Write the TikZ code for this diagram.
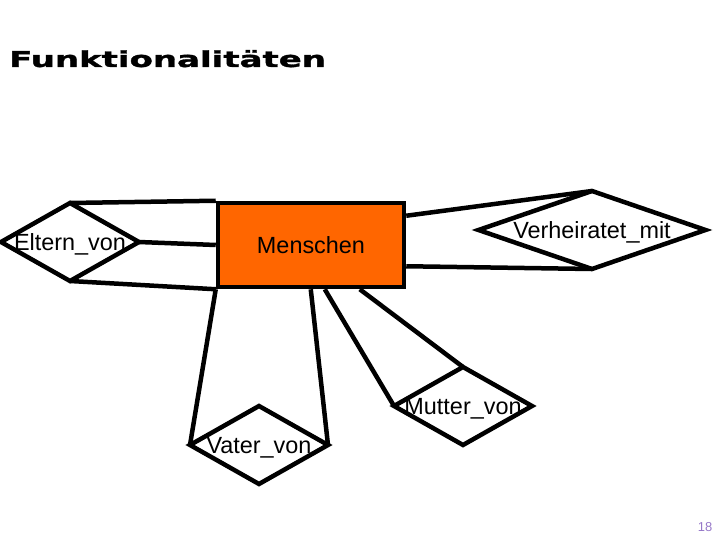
\documentclass[tikz,border=0pt]{standalone}
\usepackage{fontspec}
\setmainfont{Liberation Sans}
\newfontface\titelfont{DejaVu Sans Bold}[FakeBold=1.2]
\usetikzlibrary{shapes.geometric}
\definecolor{menschorange}{RGB}{255,102,0}
\definecolor{seitenlila}{RGB}{150,120,200}
\newcommand{\relText}[1]{\makebox[0pt]{#1}}
\tikzset{
  entity/.style={draw, line width=4.5bp, fill=menschorange, inner sep=0pt,
    minimum width=186bp, minimum height=84bp, font=\fontsize{23.5}{26}\selectfont},
  relation/.style={draw, diamond, line width=4.5bp, inner sep=0pt, outer sep=0pt,
    text depth=0pt, minimum width=138bp, minimum height=78bp,
    font=\fontsize{23.5}{26}\selectfont},
  link/.style={line width=4.5bp}
}

\begin{document}
\begin{tikzpicture}[x=1bp,y=-1bp]
\useasboundingbox (0,0) rectangle (720,540);
\node[anchor=base west, inner sep=0pt, font=\fontsize{22}{26}\titelfont] (titel) at (9,67) {\scalebox{1.55}[1]{Funktionalitäten}};
\node[entity] (mensch) at (311,245) {Menschen};
\node[relation] (eltern) at (70,242) {\relText{Eltern\_von}};
\node[relation, minimum width=227bp] (verh) at (592,230) {\relText{Verheiratet\_mit}};
\node[relation] (vater) at (259,445) {\relText{Vater\_von}};
\node[relation] (mutter) at (463,406) {\relText{Mutter\_von}};
\draw[link] (eltern.north) -- (mensch.north west);
\draw[link] (eltern.east) -- (mensch.west);
\draw[link] (eltern.south) -- (mensch.south west);
\draw[link] ([yshift=-15bp]mensch.north east) -- (verh.north);
\draw[link] ([yshift=23bp]mensch.south east) -- (verh.south);
\draw[link] (vater.west) -- (mensch.south west);
\draw[link] (vater.east) -- ([xshift=95bp]mensch.south west);
\draw[link] (mutter.west) -- ([xshift=109bp]mensch.south west);
\draw[link] (mutter.north) -- ([xshift=144bp]mensch.south west);
\node[text=seitenlila, font=\fontsize{13}{15}\selectfont] (seite) at (705,527) {18};
\end{tikzpicture}
\end{document}
